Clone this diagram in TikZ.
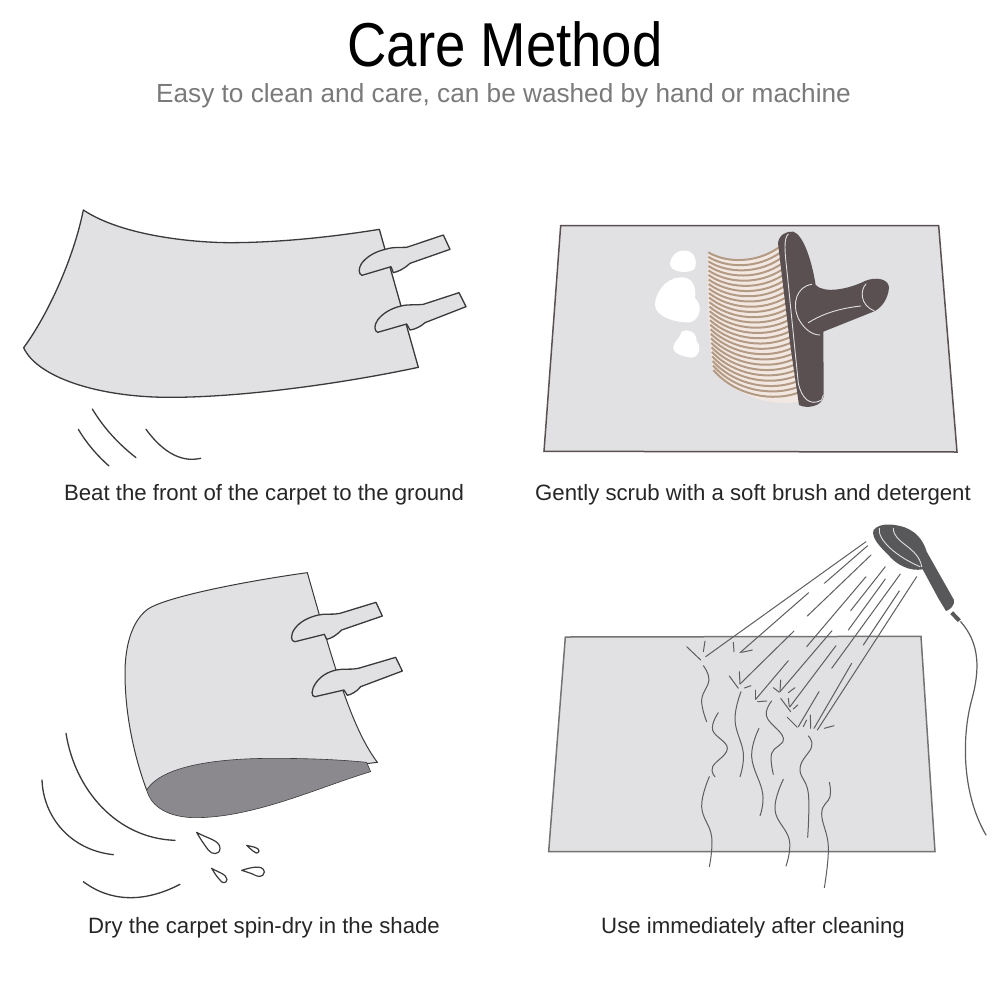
\documentclass[tikz,border=0pt]{standalone}
\usepackage{fontspec}
\setmainfont{Liberation Sans}
\definecolor{carpet}{HTML}{E1E1E4}
\definecolor{ink}{HTML}{3A3A3C}
\definecolor{under}{HTML}{8B898D}
\definecolor{brushdark}{HTML}{5A5052}
\definecolor{bristle}{HTML}{B39A84}
\definecolor{bristlebg}{HTML}{F3E8E1}
\definecolor{showerdark}{HTML}{58585A}
\definecolor{spray}{HTML}{5E5E60}
\tikzset{
  px/.style={x=0.33333pt,y=-0.33333pt},
  sheet/.style={fill=carpet,draw=ink,line width=1.3pt,line join=round},
  windline/.style={draw=ink,line width=1.3pt,line cap=round},
  droplet/.style={draw=ink,line width=1.2pt,fill=white,line join=round},
  caption/.style={font=\fontsize{22.2}{26}\selectfont,text=black!85,inner sep=0pt,anchor=base},
  foam/.style={fill=white,draw=none},
  highlight/.style={draw=white!88!black,line width=0.9pt,line cap=round},
  sprayline/.style={draw=spray,line width=1pt,line cap=round},
  trickle/.style={draw=spray,line width=1pt,line cap=round},
}
\begin{document}
\begin{tikzpicture}[x=1pt,y=-1pt]
\useasboundingbox[fill=white] (0,0) rectangle (1000,980);

% headings
\node[inner sep=0pt,anchor=base,xscale=0.88,font=\fontsize{62}{70}\selectfont,text=black] (title) at (505,66) {Care Method};
\node[inner sep=0pt,anchor=base,font=\fontsize{26.2}{30}\selectfont,text=black!52] (subtitle) at (503.5,102) {Easy to clean and care, can be washed by hand or machine};

% captions
\node[caption] (capa) at (264,500) {Beat the front of the carpet to the ground};
\node[caption] (capb) at (753,500) {Gently scrub with a soft brush and detergent};
\node[caption] (capc) at (264,933) {Dry the carpet spin-dry in the shade};
\node[caption] (capd) at (753,933) {Use immediately after cleaning};

% beating the carpet
\begin{scope}[shift={(10,200)},px]
  \path[sheet] (220,30) .. controls (340,110) and (560,128) .. (660,128)
    .. controls (800,128) and (960,112) .. (1108,88)
    -- (1225,502)
    .. controls (1000,550) and (700,592) .. (480,592)
    .. controls (260,592) and (80,530) .. (41,443)
    .. controls (110,350) and (190,180) .. (220,30) -- cycle;
  \path[sheet] (1126,148) .. controls (1150,140) and (1170,143) .. (1190,142)
    -- (1300,105) -- (1320,148) -- (1200,190)
    .. controls (1185,205) and (1165,215) .. (1150,218) -- (1143,200) -- (1056,226)
    .. controls (1045,222) and (1045,205) .. (1055,190)
    .. controls (1070,170) and (1095,155) .. (1126,148) -- cycle;
  \path[sheet] (1173,318) .. controls (1197,312) and (1220,316) .. (1240,313)
    -- (1347,278) -- (1368,320) -- (1245,368)
    .. controls (1232,380) and (1215,388) .. (1200,390) -- (1190,372) -- (1103,397)
    .. controls (1092,393) and (1092,375) .. (1103,360)
    .. controls (1118,340) and (1143,325) .. (1173,318) -- cycle;
  \path[windline] (247,627) .. controls (285,690) and (330,735) .. (378,773);
  \path[windline] (205,688) .. controls (230,730) and (260,765) .. (297,798);
  \path[windline] (408,688) .. controls (450,745) and (505,790) .. (572,775);
\end{scope}

% scrubbing with the brush
\begin{scope}[shift={(540,210)},px]
  \path[fill=carpet,draw=brushdark,line width=1.5pt] (62,47) -- (1196,47) -- (1251,726) -- (12,724) -- cycle;
  % foam
  \path[foam] (390,160) .. controls (395,130) and (420,118) .. (440,122)
    .. controls (470,128) and (472,165) .. (462,178)
    .. controls (445,192) and (388,188) .. (390,160) -- cycle;
  \path[foam] (345,285) .. controls (345,250) and (375,205) .. (420,202)
    .. controls (455,200) and (470,225) .. (465,265)
    .. controls (490,285) and (480,330) .. (450,337)
    .. controls (410,340) and (345,320) .. (345,285) -- cycle;
  \path[foam] (400,410) .. controls (405,390) and (420,385) .. (425,365)
    .. controls (445,355) and (470,365) .. (470,395)
    .. controls (485,410) and (480,440) .. (455,443)
    .. controls (430,440) and (395,430) .. (400,410) -- cycle;
  % bristles
  \path[fill=bristlebg] (505,127) .. controls (560,160) and (650,160) .. (720,108)
    -- (780,575) .. controls (690,590) and (590,560) .. (518,480)
    .. controls (505,350) and (500,250) .. (505,127) -- cycle;
  \foreach \i in {0,...,26}{
    \pgfmathsetmacro{\t}{\i/26}
    \pgfmathsetmacro{\ax}{505+15*\t*\t}
    \pgfmathsetmacro{\ay}{127+353*\t}
    \pgfmathsetmacro{\bx}{560+30*\t}
    \pgfmathsetmacro{\by}{160+400*\t}
    \pgfmathsetmacro{\cx}{650+50*\t}
    \pgfmathsetmacro{\cy}{160+415*\t}
    \pgfmathsetmacro{\dx}{717+58*\t}
    \pgfmathsetmacro{\dy}{112+436*\t}
    \draw[bristle,line width=2pt] (\ax,\ay) .. controls (\bx,\by) and (\cx,\cy) .. (\dx,\dy);
  }
  % brush body and handle
  \path[fill=brushdark] (714,100) .. controls (716,75) and (740,62) .. (760,65)
    .. controls (790,75) and (815,150) .. (827,225)
    .. controls (850,250) and (920,240) .. (975,213)
    .. controls (1005,200) and (1045,205) .. (1047,232)
    .. controls (1045,265) and (1025,295) .. (1000,305)
    -- (850,365) -- (851,560)
    .. controls (845,590) and (800,597) .. (777,585)
    -- (750,400) -- cycle;
  \path[highlight] (745,72) .. controls (730,85) and (735,130) .. (740,175)
    -- (775,520) .. controls (785,565) and (810,590) .. (845,570) -- (850,555);
  \path[highlight] (815,223) .. controls (770,230) and (755,280) .. (775,325)
    .. controls (790,355) and (815,375) .. (840,375);
  \path[highlight] (805,338) .. controls (850,310) and (900,295) .. (962,288);
  \path[highlight] (978,222) .. controls (960,240) and (960,285) .. (1002,302);
\end{scope}

% drying in the shade
\begin{scope}[shift={(20,560)},px]
  \path[fill=carpet,draw=ink,line width=1pt] (862,38) .. controls (700,60) and (430,110) .. (380,150)
    .. controls (330,190) and (315,270) .. (315,340)
    .. controls (315,480) and (350,610) .. (380,690)
    -- (1072,607)
    .. controls (1000,510) and (950,350) .. (862,38) -- cycle;
  \path[fill=under,draw=ink,line width=0.6pt] (380,690) .. controls (430,610) and (620,595) .. (760,595)
    .. controls (880,595) and (970,600) .. (1040,607) -- (1052,635)
    .. controls (900,680) and (700,775) .. (520,773)
    .. controls (430,770) and (390,730) .. (380,690) -- cycle;
  \path[sheet] (895,165) .. controls (915,160) and (940,165) .. (960,160)
    -- (1068,127) -- (1087,168) -- (965,210)
    .. controls (950,225) and (935,235) .. (920,238) -- (913,223) -- (825,245)
    .. controls (812,245) and (810,225) .. (825,205)
    .. controls (840,185) and (865,172) .. (895,165) -- cycle;
  \path[sheet] (948,330) .. controls (970,325) and (995,330) .. (1015,325)
    -- (1127,292) -- (1147,333) -- (1022,380)
    .. controls (1010,395) and (995,403) .. (982,406) -- (972,390) -- (885,410)
    .. controls (873,410) and (873,390) .. (887,370)
    .. controls (900,350) and (920,337) .. (948,330) -- cycle;
  \path[windline] (138,520) .. controls (165,690) and (290,835) .. (465,841);
  \path[windline] (66,660) .. controls (70,770) and (150,870) .. (280,884);
  \path[windline] (190,965) .. controls (270,1025) and (370,1030) .. (480,973);
  \path[droplet] (530,817) .. controls (560,835) and (600,840) .. (600,865)
    .. controls (600,885) and (575,885) .. (565,870) .. controls (550,850) and (540,835) .. (530,817) -- cycle;
  \path[droplet] (680,856) .. controls (695,860) and (718,862) .. (717,873)
    .. controls (715,882) and (703,880) .. (699,873) .. controls (693,868) and (686,862) .. (680,856) -- cycle;
  \path[droplet] (575,925) .. controls (590,935) and (620,942) .. (621,958)
    .. controls (620,972) and (605,970) .. (600,960) .. controls (590,950) and (583,938) .. (575,925) -- cycle;
  \path[droplet] (665,931) .. controls (685,925) and (730,910) .. (733,936)
    .. controls (730,955) and (710,950) .. (700,943) .. controls (688,938) and (677,935) .. (665,931) -- cycle;
\end{scope}

% rinsing under the shower
\begin{scope}[shift={(540,510)},px]
  \path[fill=carpet,draw=black!55,line width=1.5pt] (76,381) -- (1143,379) -- (1185,1025) -- (26,1025) -- cycle;
  \foreach \a/\b/\c/\d in {978/95/497/440, 983/107/853/220, 993/135/802/318, 806/248/600/428,
      978/200/800/410, 1036/170/932/302, 1036/207/925/360, 1081/192/875/475, 1078/243/970/405,
      1130/200/832/660, 762/363/600/522, 876/362/720/545, 745/452/647/568, 888/407/750/590,
      837/545/775/650, 935/460/822/655,
      440/410/482/450, 495/393/490/425, 580/397/582/425, 637/420/605/427, 568/498/595/535,
      598/485/600/522, 633/527/613/534, 647/540/647/568, 653/575/680/573, 700/533/718/547,
      722/510/720/545, 765/533/745/548, 722/565/752/605, 745/565/748/590, 773/585/760/597,
      742/622/772/652, 800/630/790/650, 811/615/812/655, 882/647/853/655}{
    \draw[sprayline] (\a,\b) -- (\c,\d);
  }
  \draw[trickle] plot[smooth,tension=0.7] coordinates {(490,467) (507,510) (485,570) (500,635)};
  \draw[trickle] plot[smooth,tension=0.7] coordinates {(535,608) (518,660) (562,715) (518,770) (525,800)};
  \draw[trickle] plot[smooth,tension=0.7] coordinates {(603,545) (585,630) (610,730) (600,800)};
  \draw[trickle] plot[smooth,tension=0.7] coordinates {(657,655) (635,740) (668,850) (660,917)};
  \draw[trickle] plot[smooth,tension=0.7] coordinates {(695,573) (680,620) (730,685) (695,730) (700,793)};
  \draw[trickle] plot[smooth,tension=0.7] coordinates {(805,678) (815,710) (780,775) (805,850) (803,982)};
  \draw[trickle] plot[smooth,tension=0.7] coordinates {(508,800) (485,890) (515,980) (508,1070)};
  \draw[trickle] plot[smooth,tension=0.7] coordinates {(730,808) (705,900) (748,990) (738,1068)};
  \draw[trickle] plot[smooth,tension=0.7] coordinates {(868,817) (870,860) (845,910) (865,1010) (853,1133)};
  % shower head, coupling and hose
  \path[fill=showerdark] (1000,62) .. controls (1010,45) and (1040,38) .. (1080,48)
    .. controls (1125,58) and (1150,90) .. (1160,125)
    -- (1242,270) .. controls (1245,285) and (1230,300) .. (1218,303)
    -- (1195,265) -- (1148,178)
    .. controls (1110,185) and (1070,165) .. (1045,135)
    .. controls (1020,110) and (995,85) .. (1000,62) -- cycle;
  \path[draw=showerdark,line width=4pt] (1235,308) -- (1258,332);
  \path[draw=spray,line width=1.2pt,line cap=round] (1262,335) .. controls (1320,400) and (1320,480) .. (1295,570)
    .. controls (1265,680) and (1265,850) .. (1338,975);
  \path[highlight] (1018,55) .. controls (1012,90) and (1070,140) .. (1140,170);
  \path[highlight] (1060,55) .. controls (1060,100) and (1135,110) .. (1145,170);
\end{scope}
\end{tikzpicture}
\end{document}
